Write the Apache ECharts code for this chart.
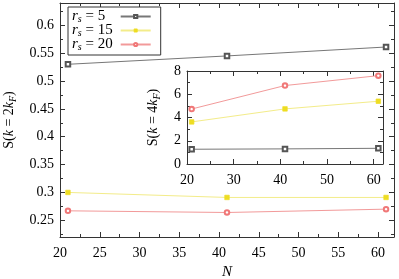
<!DOCTYPE html>
<html><head><meta charset="utf-8">
<script src="https://cdn.jsdelivr.net/npm/echarts@6/dist/echarts.min.js"></script>
<style>html,body{margin:0;padding:0;background:#fff}#c{width:399px;height:279px}</style>
</head><body><div id="c"></div>
<script>
// ---- data ----
const N_main = [21, 41, 61];
const s2k_rs5 = [0.530, 0.545, 0.561];
const s2k_rs15 = [0.300, 0.291, 0.291];
const s2k_rs20 = [0.267, 0.264, 0.270];
const N_inset = [21, 41, 61];
const s4k_rs5 = [1.27, 1.30, 1.35];
const s4k_rs15 = [3.62, 4.74, 5.40];
const s4k_rs20 = [4.73, 6.75, 7.60];
const seriesNames = ['rs5', 'rs15', 'rs20'];
const legendValues = ['5', '15', '20'];
const mainXTicks = [20, 25, 30, 35, 40, 45, 50, 55, 60];
const mainXMinor = [22.5, 27.5, 32.5, 37.5, 42.5, 47.5, 52.5, 57.5];
const mainYTicks = [0.25, 0.3, 0.35, 0.4, 0.45, 0.5, 0.55, 0.6];
const mainYMinor = [0.225, 0.275, 0.325, 0.375, 0.425, 0.475, 0.525, 0.575, 0.625];
const insetXTicks = [20, 30, 40, 50, 60];
const insetXMinor = [25, 35, 45, 55];
const insetYTicks = [0, 2, 4, 6, 8];
const insetYMinor = [1, 3, 5, 7];

const FONT = "Liberation Serif";
const AX = '#333';
const colors = ['#555555', '#eedd22', '#f07878'];
const lineColors = ['#777777', '#f3ec8a', '#f29a9a'];

function fmt(v){ return '{a|' + String(+(+v).toFixed(3)) + '}'; }

function makeAxes(dim, grid, min, max, majors, minors, withLabels, extra) {
  const pos = dim === 'x' ? ['bottom', 'top'] : ['left', 'right'];
  const list = [];
  pos.forEach((p, pi) => {
    [[majors, 5, pi === 0 && withLabels], [minors, 3, false]].forEach(([vals, len, lab], k) => {
      const a = {
        type: 'value', gridIndex: grid, position: p, min: min, max: max,
        splitLine: {show: false},
        axisLine: {show: k === 0, onZero: false, lineStyle: {color: AX, width: 1}},
        axisTick: {show: true, inside: true, length: len, customValues: vals, lineStyle: {color: AX, width: 1}},
        axisLabel: {show: !!lab, customValues: vals, formatter: fmt,
          color: '#000', fontFamily: FONT, fontSize: 14,
          rich: {a: {fontFamily: FONT, fontSize: 14, color: '#000'}},
          margin: dim === 'x' ? 9 : 6},
        silent: true
      };
      if (lab && extra) Object.assign(a, extra);
      list.push(a);
    });
  });
  return list;
}

const xAxes = [].concat(
  makeAxes('x', 0, 20, 62, mainXTicks, mainXMinor, true, {
    name: 'N', nameLocation: 'middle', nameGap: 27,
    nameTextStyle: {fontFamily: FONT, fontSize: 15, fontStyle: 'italic', color: '#000'}
  }),
  makeAxes('x', 1, 20, 62, insetXTicks, insetXMinor, true, null)
);
const richName = {
  n: {fontFamily: FONT, fontSize: 14, color: '#000'},
  i: {fontFamily: FONT, fontSize: 14, fontStyle: 'italic', color: '#000'},
  sub: {fontFamily: FONT, fontSize: 10, fontStyle: 'italic', color: '#000', padding: [7, 0, 0, 0]}
};
const yAxes = [].concat(
  makeAxes('y', 0, 0.22, 0.64, mainYTicks, mainYMinor, true, {
    name: '{n|S(}{i|k}{n| = 2}{i|k}{sub|F}{n|)}', nameLocation: 'middle', nameGap: 42,
    nameTextStyle: {rich: richName}
  }),
  makeAxes('y', 1, 0, 8, insetYTicks, insetYMinor, true, {
    name: '{n|S(}{i|k}{n| = 4}{i|k}{sub|F}{n|)}', nameLocation: 'middle', nameGap: 25,
    nameTextStyle: {rich: richName}
  })
);

const symbols = ['emptyRect', 'rect', 'emptyCircle'];
const sizes = [4.5, 4.5, 4.5];
const mainData = [s2k_rs5, s2k_rs15, s2k_rs20];
const insetData = [s4k_rs5, s4k_rs15, s4k_rs20];
const series = [];
[0, 1].forEach(g => {
  seriesNames.forEach((nm, i) => {
    const xs = g === 0 ? N_main : N_inset;
    const ys = g === 0 ? mainData[i] : insetData[i];
    series.push({
      name: nm, type: 'line', xAxisIndex: g * 4, yAxisIndex: g * 4,
      data: xs.map((n, j) => [n, ys[j]]),
      symbol: symbols[i], symbolSize: sizes[i], showAllSymbol: true,
      lineStyle: {color: lineColors[i], width: 1},
      itemStyle: {color: colors[i], borderColor: colors[i], borderWidth: 0.7},
      animation: false
    });
  });
});

const chart = echarts.init(document.getElementById('c'), null, {renderer: 'canvas'});
chart.setOption({
  animation: false,
  backgroundColor: '#fff',
  textStyle: {fontFamily: FONT},
  grid: [
    {left: 60, top: 3, right: 5, bottom: 42, outerBoundsMode: 'none', containLabel: false},
    {left: 187, top: 71, width: 196, height: 93, outerBoundsMode: 'none', containLabel: false,
     backgroundColor: '#fff', show: true, borderWidth: 0}
  ],
  xAxis: xAxes,
  yAxis: yAxes,
  legend: {
    data: seriesNames, orient: 'vertical', left: 68, top: 7,
    align: 'right', itemWidth: 30, itemHeight: 4, itemGap: -1,
    padding: [2, 9, 3, 4],
    borderColor: '#333', borderWidth: 1, backgroundColor: '#fff',
    selectedMode: false,
    itemStyle: {borderWidth: 0.7},
    formatter: function (name) {
      const i = seriesNames.indexOf(name);
      const v = legendValues[i].length < 2 ? legendValues[i] + '\u2007' : legendValues[i];
      return '{r|r}{s|s}{t| = ' + v + '}{g|}';
    },
    textStyle: {
      fontFamily: FONT, fontSize: 15, color: '#000',
      rich: {
        r: {fontFamily: FONT, fontSize: 15, fontStyle: 'italic', color: '#000', lineHeight: 14},
        s: {fontFamily: FONT, fontSize: 10, fontStyle: 'italic', color: '#000', padding: [5, 0, 0, 0], lineHeight: 10},
        t: {fontFamily: FONT, fontSize: 15, color: '#000', lineHeight: 14},
        g: {width: 3, lineHeight: 14}
      }
    }
  },
  series: series
});
</script></body></html>
